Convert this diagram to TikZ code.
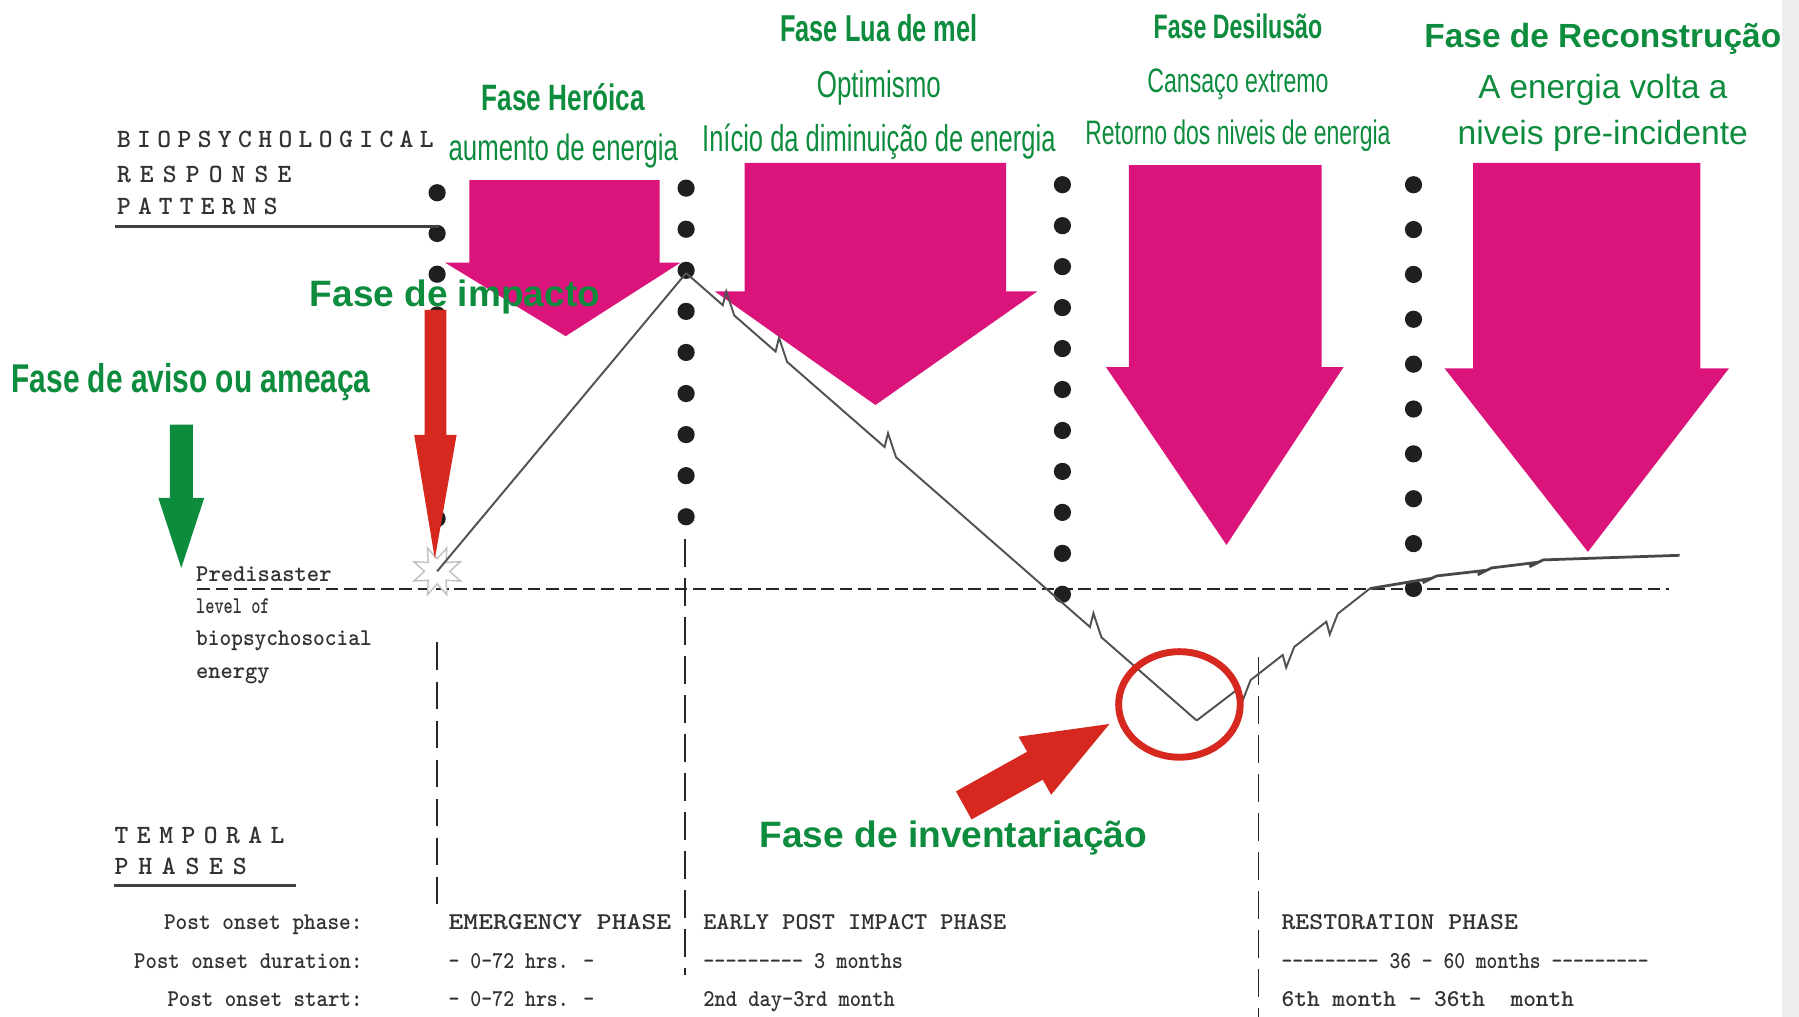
\documentclass[tikz,border=0pt]{standalone}
\usepackage{fontspec}
\usepackage{graphicx}
\setmainfont{Liberation Sans}
\usetikzlibrary{shapes.geometric}
\definecolor{grn}{RGB}{14,140,62}
\definecolor{mag}{RGB}{218,20,122}
\definecolor{rd}{RGB}{214,40,30}
\definecolor{txtgray}{RGB}{50,50,50}
\definecolor{strip}{RGB}{237,237,237}
\newcommand{\fitw}[2]{\resizebox{#1}{\height}{#2}}
\newcommand{\hy}{-{}}
\makeatletter
\newcommand{\spaceout}[2]{\@tfor\@ch:=#2\do{\@ch\kern#1}\unkern}
\makeatother
\begin{document}
\begin{tikzpicture}[x=0.5pt,y=-0.5pt,
  gtxt/.style={text=grn, inner sep=0pt, outer sep=0pt, anchor=base},
  gtxtw/.style={text=grn, inner sep=0pt, outer sep=0pt, anchor=base west},
  mtxt/.style={text=txtgray, inner sep=0pt, outer sep=0pt, anchor=base west, font=\ttfamily\bfseries\fontsize{10.5}{12}\selectfont},
  mlab/.style={text=txtgray, inner sep=0pt, outer sep=0pt, anchor=base east, font=\ttfamily\bfseries\fontsize{10.5}{12}\selectfont},
  htxt/.style={text=txtgray, inner sep=0pt, outer sep=0pt, anchor=base west, font=\ttfamily\bfseries\fontsize{11.5}{13}\selectfont},
  magarrow/.style={fill=mag, draw=none},
  vdash/.style={draw=black!85, line width=0.75pt, dash pattern=on 12pt off 5pt},
  hdash/.style={draw=black!85, line width=0.9pt, dash pattern=on 5.5pt off 2.5pt},
  dotc/.style={fill=black!88},
  eline/.style={draw=black!68, line width=0.85pt, line join=miter},
  eflat/.style={draw=black!72, line width=1.2pt, line join=miter},
  rule/.style={draw=black!75, line width=1.3pt}
]
\useasboundingbox (0,0) rectangle (1568,886);
\fill[white] (0,0) rectangle (1568,886);
\fill[strip] (1553,0) rectangle (1568,886);

% dashed guide lines
\draw[hdash] (172,513) -- (1455,513);
\draw[vdash] (381,560) -- (381,796);
\draw[vdash] (597,470) -- (597,850);
\draw[vdash] (1097,573) -- (1097,886);

% magenta arrows
\fill[magarrow] (409,157) -- (575,157) -- (575,229) -- (593,229) -- (493,293) -- (388,229) -- (409,229) -- cycle;
\fill[magarrow] (649,142) -- (877,142) -- (877,254) -- (904,254) -- (763,353) -- (623,254) -- (649,254) -- cycle;
\fill[magarrow] (984,144) -- (1152,144) -- (1152,320) -- (1171,320) -- (1069,475) -- (964,320) -- (984,320) -- cycle;
\fill[magarrow] (1284,142) -- (1482,142) -- (1482,321) -- (1507,321) -- (1384,481) -- (1259,321) -- (1284,321) -- cycle;

% dot columns
\foreach \k in {0,...,8} \fill[dotc] (381,168+35.5*\k) circle [radius=7.5];
\foreach \k in {0,...,8} \fill[dotc] (598,164+35.8*\k) circle [radius=7.5];
\foreach \k in {0,...,10} \fill[dotc] (926,161+35.7*\k) circle [radius=7.5];
\foreach \k in {0,...,9} \fill[dotc] (1232,161+39.1*\k) circle [radius=7.5];

% burst and energy curve
\node[star, star points=8, star point ratio=0.5, minimum size=11pt, inner sep=0pt,
      draw=black!25, fill=white, line width=0.6pt] (burst) at (381,498) {};
\coordinate (peak) at (598,238);
\coordinate (low) at (1043,628);
\coordinate (back) at (1194,513);
\coordinate (fin) at (1464,484);
\draw[eline] (burst.center) -- (peak);
\draw[eline] (peak) -- (630,266) -- (633,254) -- (640,275) -- (676,306.4) -- (679,294.4) -- (686,315.4)
  -- (771,389.6) -- (774,377.6) -- (781,398.6) -- (950,546.5) -- (953,534.5) -- (960,555.5) -- (low);
\draw[eline] (low) -- (1080,599.8) -- (1083,610.8) -- (1090,592.8) -- (1118,570.9) -- (1121,581.9)
  -- (1128,563.9) -- (1156,541.9) -- (1159,552.9) -- (1166,534.9) -- (back);
\draw[eflat] (back) -- (1248,504) -- (1240,508) -- (1252,502) -- (1296,497) -- (1288,501) -- (1300,495)
  -- (1341,490) -- (1333,494) -- (1345,488) -- (fin);

% red and green arrows
\fill[rd] (370,270) -- (389,270) -- (389,379) -- (398,379) -- (379,487) -- (361,379) -- (370,379) -- cycle;
\fill[grn] (148,370) -- (168,370) -- (168,434) -- (178,434) -- (158,495) -- (138,434) -- (148,434) -- cycle;
\fill[rd] (833.2,689.8) -- (895.2,655.2) -- (887.8,642.1) -- (967,631) -- (916.2,692.7) -- (908.8,679.6) -- (846.8,714.2) -- cycle;
\draw[rd, line width=3pt] (1028,614) ellipse [x radius=53, y radius=46];

% rules
\draw[rule] (100,197) -- (383,197);
\draw[rule] (99,772) -- (258,772);

% green texts
\node[gtxt, font=\bfseries\fontsize{16}{19}\selectfont] (heroica) at (491,96) {\fitw{71pt}{Fase Heróica}};
\node[gtxt, font=\fontsize{16}{19}\selectfont] (aumento) at (491,140) {\fitw{100pt}{aumento de energia}};
\node[gtxt, font=\bfseries\fontsize{16.3}{19}\selectfont] (lua) at (766,36) {\fitw{86pt}{Fase Lua de mel}};
\node[gtxt, font=\fontsize{16.3}{19}\selectfont] (optim) at (766,85) {\fitw{54pt}{Optimismo}};
\node[gtxt, font=\fontsize{16.3}{19}\selectfont] (inicio) at (766,132) {\fitw{154pt}{Início da diminuição de energia}};
\node[gtxt, font=\bfseries\fontsize{14.8}{18}\selectfont] (desil) at (1079,34) {\fitw{73.5pt}{Fase Desilusão}};
\node[gtxt, font=\fontsize{14.8}{18}\selectfont] (cansaco) at (1079,81) {\fitw{79pt}{Cansaço extremo}};
\node[gtxt, font=\fontsize{14.8}{18}\selectfont] (retorno) at (1079,126) {\fitw{133pt}{Retorno dos niveis de energia}};
\node[gtxt, font=\bfseries\fontsize{14.6}{18}\selectfont] (recon) at (1397,41) {\fitw{155.5pt}{Fase de Reconstrução}};
\node[gtxt, font=\fontsize{14.6}{18}\selectfont] (volta) at (1397,86) {\fitw{108.5pt}{A energia volta a}};
\node[gtxt, font=\fontsize{14.6}{18}\selectfont] (preinc) at (1397,126) {\fitw{126.5pt}{niveis pre-incidente}};
\node[gtxtw, font=\bfseries\fontsize{16}{19}\selectfont] (impacto) at (270,267) {\fitw{126.5pt}{Fase de impacto}};
\node[gtxtw, font=\bfseries\fontsize{17.5}{21}\selectfont] (aviso) at (10,342) {\fitw{156.5pt}{Fase de aviso ou ameaça}};
\node[gtxtw, font=\bfseries\fontsize{16}{19}\selectfont] (invent) at (662,739) {\fitw{169pt}{Fase de inventariação}};

% grey headings
\node[htxt] (bio) at (102,129) {\fitw{138pt}{\spaceout{2.8pt}{BIOPSYCHOLOGICAL}}};
\node[htxt] (resp) at (102,159) {\fitw{76pt}{\spaceout{4pt}{RESPONSE}}};
\node[htxt] (patt) at (102,187) {\fitw{70pt}{\spaceout{3.2pt}{PATTERNS}}};
\node[htxt] (temp) at (100,735) {\fitw{74pt}{\spaceout{3.7pt}{TEMPORAL}}};
\node[htxt] (phas) at (100,762) {\fitw{57.5pt}{\spaceout{4.2pt}{PHASES}}};

% predisaster label
\node[mtxt] (pre1) at (171,507) {\fitw{59pt}{Predisaster}};
\node[mtxt] (pre2) at (171,535) {\fitw{32pt}{level of}};
\node[mtxt] (pre3) at (171,563) {\fitw{76.5pt}{biopsychosocial}};
\node[mtxt] (pre4) at (171,591) {\fitw{32pt}{energy}};

% table
\node[mlab] (lab1) at (316,810) {\fitw{86.5pt}{Post onset phase:}};
\node[mlab] (lab2) at (316,844) {\fitw{99.5pt}{Post onset duration:}};
\node[mlab] (lab3) at (316,877) {\fitw{85pt}{Post onset start:}};
\node[mtxt] (em1) at (391,810) {\fitw{97pt}{EMERGENCY PHASE}};
\node[mtxt] (em2) at (391,844) {\fitw{63.5pt}{- 0-72 hrs. -}};
\node[mtxt] (em3) at (391,877) {\fitw{63.5pt}{- 0-72 hrs. -}};
\node[mtxt] (ea1) at (613,810) {\fitw{132pt}{EARLY POST IMPACT PHASE}};
\node[mtxt] (ea2) at (613,844) {\fitw{87pt}{\hy\hy\hy\hy\hy\hy\hy\hy\hy\ 3 months}};
\node[mtxt] (ea3) at (613,877) {\fitw{83.5pt}{2nd day-3rd month}};
\node[mtxt] (re1) at (1117,810) {\fitw{103pt}{RESTORATION PHASE}};
\node[mtxt] (re2) at (1117,844) {\fitw{160pt}{\hy\hy\hy\hy\hy\hy\hy\hy\hy\ 36 - 60 months \hy\hy\hy\hy\hy\hy\hy\hy\hy}};
\node[mtxt] (re3) at (1117,877) {\fitw{127.5pt}{6th month - 36th\ \ month}};
\end{tikzpicture}
\end{document}
